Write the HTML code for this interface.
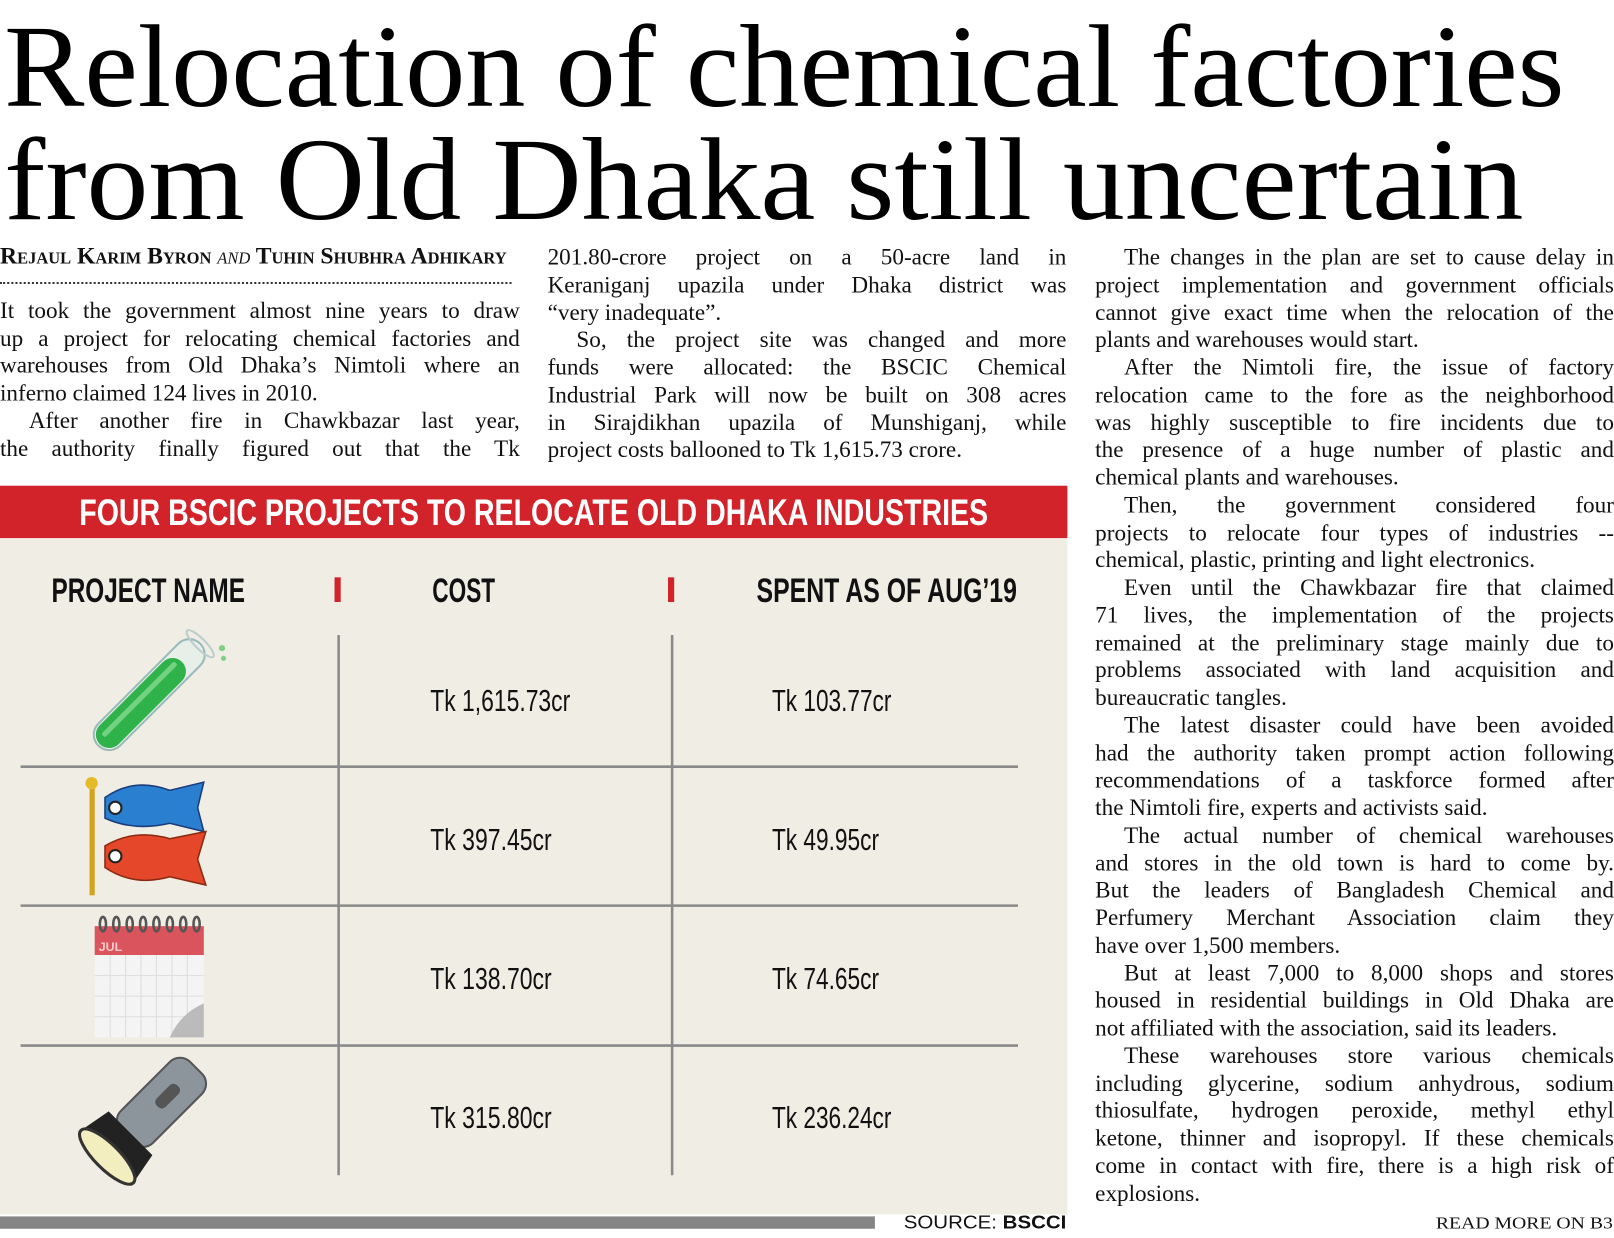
<!DOCTYPE html>
<html><head><meta charset="utf-8">
<style>
html,body{margin:0;padding:0;background:#fff;}
body{width:1614px;height:1238px;overflow:hidden;position:relative;}
#v{position:absolute;left:0;top:0;width:1568px;height:1203px;transform:scale(1.0293,1.0291);transform-origin:0 0;}
.col{position:absolute;font-family:"Liberation Serif",serif;font-size:22.5px;color:#111;}
.l{height:26.75px;line-height:26.75px;white-space:nowrap;text-align:justify;text-align-last:justify;overflow:visible;}
.l.e{text-align-last:left;}
.ind{text-indent:28px;}
</style></head><body>
<div id="v">

<svg width="1568" height="1203" style="position:absolute;left:0;top:0">
  <g font-family="Liberation Serif, serif" fill="#000">
    <text x="4" y="103" font-size="114" textLength="1516" lengthAdjust="spacingAndGlyphs">Relocation of chemical factories</text>
    <text x="4" y="213" font-size="114" textLength="1476" lengthAdjust="spacingAndGlyphs">from Old Dhaka still uncertain</text>
  </g>
  <rect x="0" y="472" width="1037" height="51" fill="#d2232a"/>
  <text x="77" y="510" font-family="Liberation Sans Narrow, Liberation Sans, sans-serif" font-weight="bold" font-size="36" fill="#fff" textLength="883" lengthAdjust="spacingAndGlyphs">FOUR BSCIC PROJECTS TO RELOCATE OLD DHAKA INDUSTRIES</text>
  <rect x="0" y="523" width="1037" height="657" fill="#f0ede4"/>
  <g font-family="Liberation Sans Narrow, Liberation Sans, sans-serif" font-weight="bold" font-size="33" fill="#111">
    <text x="50" y="585" textLength="188" lengthAdjust="spacingAndGlyphs">PROJECT NAME</text>
    <text x="420" y="585" textLength="61" lengthAdjust="spacingAndGlyphs">COST</text>
    <text x="735" y="585" textLength="253" lengthAdjust="spacingAndGlyphs">SPENT AS OF AUG’19</text>
  </g>
  <rect x="325" y="561" width="6" height="24" fill="#d2232a"/>
  <rect x="649" y="561" width="6" height="24" fill="#d2232a"/>
  <g stroke="#8a8a8a" stroke-width="2.5">
    <line x1="329" y1="617" x2="329" y2="1142"/>
    <line x1="653" y1="617" x2="653" y2="1142"/>
    <line x1="20" y1="745" x2="989" y2="745"/>
    <line x1="20" y1="880" x2="989" y2="880"/>
    <line x1="20" y1="1016" x2="989" y2="1016"/>
  </g>
  <g font-family="Liberation Sans Narrow, Liberation Sans, sans-serif" font-size="30" fill="#111">
    <text x="418" y="691" textLength="136" lengthAdjust="spacingAndGlyphs">Tk 1,615.73cr</text>
    <text x="750" y="691" textLength="116" lengthAdjust="spacingAndGlyphs">Tk 103.77cr</text>
    <text x="418" y="826" textLength="118" lengthAdjust="spacingAndGlyphs">Tk 397.45cr</text>
    <text x="750" y="826" textLength="104" lengthAdjust="spacingAndGlyphs">Tk 49.95cr</text>
    <text x="418" y="961" textLength="118" lengthAdjust="spacingAndGlyphs">Tk 138.70cr</text>
    <text x="750" y="961" textLength="104" lengthAdjust="spacingAndGlyphs">Tk 74.65cr</text>
    <text x="418" y="1096" textLength="118" lengthAdjust="spacingAndGlyphs">Tk 315.80cr</text>
    <text x="750" y="1096" textLength="116" lengthAdjust="spacingAndGlyphs">Tk 236.24cr</text>
  </g>
  <g transform="translate(145,675) rotate(45)">
    <rect x="-15" y="-70" width="30" height="140" rx="15" fill="#e8efe8" stroke="#9bb" stroke-width="2"/>
    <rect x="-13" y="-45" width="26" height="113" rx="13" fill="#2fb24a"/>
    <rect x="-6" y="-40" width="5" height="100" rx="2" fill="#8fe09a" opacity=".7"/>
    <ellipse cx="0" cy="-70" rx="18" ry="5" fill="none" stroke="#bcc" stroke-width="2"/>
    <circle cx="18" cy="-82" r="3" fill="#7cd184"/><circle cx="26" cy="-76" r="2.5" fill="#7cd184"/>
  </g>
  <g>
    <rect x="87" y="758" width="5" height="112" fill="#d4a21d"/>
    <circle cx="89" cy="761" r="6" fill="#e6bb2a"/>
    <path d="M102 775 Q130 755 165 768 L198 760 L192 785 L198 808 L165 800 Q130 808 102 795 Z" fill="#2a7fd1" stroke="#1a3c7a" stroke-width="1.5"/>
    <circle cx="112" cy="785" r="6" fill="#fff" stroke="#222" stroke-width="2"/>
    <path d="M102 822 Q130 805 165 815 L200 808 L192 835 L200 860 L165 852 Q130 862 102 843 Z" fill="#e4472a" stroke="#8a2a10" stroke-width="1.5"/>
    <circle cx="112" cy="832" r="6" fill="#fff" stroke="#222" stroke-width="2"/>
  </g>
  <g>
    <rect x="92" y="900" width="106" height="28" fill="#d9545c"/>
    <text x="96" y="924" font-family="Liberation Sans, sans-serif" font-weight="bold" font-size="12" fill="#fcc">JUL</text>
    <rect x="92" y="928" width="106" height="80" fill="#f4f4f4"/>
    <g stroke="#ddd" stroke-width="1">
      <line x1="92" y1="948" x2="198" y2="948"/><line x1="92" y1="968" x2="198" y2="968"/><line x1="92" y1="988" x2="198" y2="988"/>
      <line x1="107" y1="928" x2="107" y2="1008"/><line x1="122" y1="928" x2="122" y2="1008"/><line x1="137" y1="928" x2="137" y2="1008"/><line x1="152" y1="928" x2="152" y2="1008"/><line x1="167" y1="928" x2="167" y2="1008"/><line x1="182" y1="928" x2="182" y2="1008"/>
    </g>
    <path d="M198 975 Q175 985 165 1008 L198 1008 Z" fill="#bbb"/>
    <g fill="none" stroke="#555" stroke-width="2.5">
      <ellipse cx="100" cy="898" rx="3" ry="7"/><ellipse cx="113" cy="898" rx="3" ry="7"/><ellipse cx="126" cy="898" rx="3" ry="7"/><ellipse cx="139" cy="898" rx="3" ry="7"/><ellipse cx="152" cy="898" rx="3" ry="7"/><ellipse cx="165" cy="898" rx="3" ry="7"/><ellipse cx="178" cy="898" rx="3" ry="7"/><ellipse cx="191" cy="898" rx="3" ry="7"/>
    </g>
  </g>
  <g transform="translate(148,1080) rotate(45)">
    <rect x="-22" y="-60" width="44" height="95" rx="14" fill="#8c949c" stroke="#555" stroke-width="2"/>
    <rect x="-6" y="-35" width="12" height="28" rx="5" fill="#555"/>
    <path d="M-30 30 L30 30 L36 62 L-36 62 Z" fill="#222"/>
    <ellipse cx="0" cy="62" rx="36" ry="12" fill="#f2eebf" stroke="#333" stroke-width="3"/>
  </g>
  <rect x="0" y="1182" width="850" height="12" fill="#858585"/>
  <text x="878" y="1194" font-family="Liberation Sans Narrow, Liberation Sans, sans-serif" font-size="18" fill="#111" textLength="158" lengthAdjust="spacingAndGlyphs">SOURCE: <tspan font-weight="bold">BSCCI</tspan></text>
  <text x="1567" y="1194" text-anchor="end" font-family="Liberation Serif, serif" font-size="16" fill="#111" textLength="172" lengthAdjust="spacingAndGlyphs">READ MORE ON B3</text>
</svg>

<div class="col" style="left:0;top:236px;width:505px;">
  <div style="height:26.75px;line-height:26.75px;font-weight:bold;font-size:23px;font-variant:small-caps;white-space:nowrap">Rejaul Karim Byron <i style="font-weight:normal">and</i> Tuhin Shubhra Adhikary</div>
  <div style="height:21px;width:497px;border-bottom:2px dotted #333;margin-top:-8px;margin-bottom:13px;box-sizing:border-box;"></div>
  <div class="l">It took the government almost nine years to draw</div>
  <div class="l">up a project for relocating chemical factories and</div>
  <div class="l">warehouses from Old Dhaka’s Nimtoli where an</div>
  <div class="l e">inferno claimed 124 lives in 2010.</div>
  <div class="l ind">After another fire in Chawkbazar last year,</div>
  <div class="l">the authority finally figured out that the Tk</div>
</div>

<div class="col" style="left:532px;top:237px;width:504px;">
  <div class="l">201.80-crore project on a 50-acre land in</div>
  <div class="l">Keraniganj upazila under Dhaka district was</div>
  <div class="l e">“very inadequate”.</div>
  <div class="l ind">So, the project site was changed and more</div>
  <div class="l">funds were allocated: the BSCIC Chemical</div>
  <div class="l">Industrial Park will now be built on 308 acres</div>
  <div class="l">in Sirajdikhan upazila of Munshiganj, while</div>
  <div class="l e">project costs ballooned to Tk 1,615.73 crore.</div>
</div>

<div class="col" style="left:1064px;top:237px;width:504px;">
  <div class="l ind">The changes in the plan are set to cause delay in</div>
  <div class="l">project implementation and government officials</div>
  <div class="l">cannot give exact time when the relocation of the</div>
  <div class="l e">plants and warehouses would start.</div>
  <div class="l ind">After the Nimtoli fire, the issue of factory</div>
  <div class="l">relocation came to the fore as the neighborhood</div>
  <div class="l">was highly susceptible to fire incidents due to</div>
  <div class="l">the presence of a huge number of plastic and</div>
  <div class="l e">chemical plants and warehouses.</div>
  <div class="l ind">Then, the government considered four</div>
  <div class="l">projects to relocate four types of industries --</div>
  <div class="l e">chemical, plastic, printing and light electronics.</div>
  <div class="l ind">Even until the Chawkbazar fire that claimed</div>
  <div class="l">71 lives, the implementation of the projects</div>
  <div class="l">remained at the preliminary stage mainly due to</div>
  <div class="l">problems associated with land acquisition and</div>
  <div class="l e">bureaucratic tangles.</div>
  <div class="l ind">The latest disaster could have been avoided</div>
  <div class="l">had the authority taken prompt action following</div>
  <div class="l">recommendations of a taskforce formed after</div>
  <div class="l e">the Nimtoli fire, experts and activists said.</div>
  <div class="l ind">The actual number of chemical warehouses</div>
  <div class="l">and stores in the old town is hard to come by.</div>
  <div class="l">But the leaders of Bangladesh Chemical and</div>
  <div class="l">Perfumery Merchant Association claim they</div>
  <div class="l e">have over 1,500 members.</div>
  <div class="l ind">But at least 7,000 to 8,000 shops and stores</div>
  <div class="l">housed in residential buildings in Old Dhaka are</div>
  <div class="l e">not affiliated with the association, said its leaders.</div>
  <div class="l ind">These warehouses store various chemicals</div>
  <div class="l">including glycerine, sodium anhydrous, sodium</div>
  <div class="l">thiosulfate, hydrogen peroxide, methyl ethyl</div>
  <div class="l">ketone, thinner and isopropyl. If these chemicals</div>
  <div class="l">come in contact with fire, there is a high risk of</div>
  <div class="l e">explosions.</div>
</div>

</div>
</body></html>
